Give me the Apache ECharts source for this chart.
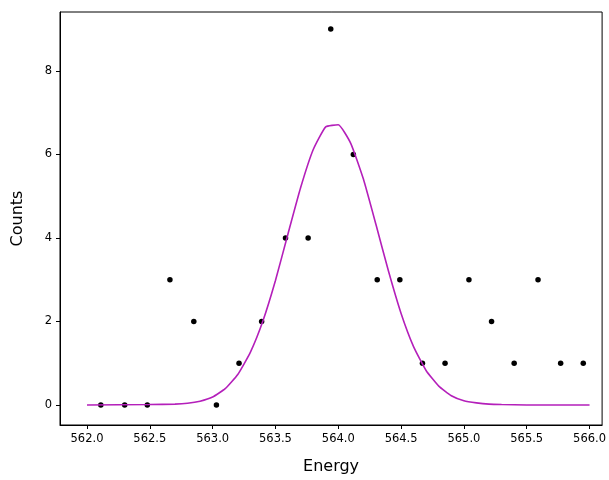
<!DOCTYPE html>
<html><head><meta charset="utf-8">
<script src="https://cdn.jsdelivr.net/npm/echarts@6/dist/echarts.min.js"></script>
<style>html,body{margin:0;padding:0;background:#fff}#c{width:609px;height:480px}</style>
</head><body><div id="c"></div>
<script>
// measured points
var energy = [562.11,562.30,562.48,562.66,562.85,563.03,563.21,563.39,563.58,563.76,563.94,564.12,564.31,564.49,564.67,564.85,565.04,565.22,565.40,565.59,565.77,565.95];
var counts = [0,0,0,3,2,0,1,2,4,4,9,6,3,3,1,1,3,2,1,3,1,1];
// fitted curve
var fitX = [562.0,562.5,562.7,562.8,562.9,563.0,563.1,563.2,563.3,563.4,563.5,563.6,563.7,563.8,563.9,564.0,564.1,564.2,564.3,564.4,564.5,564.6,564.7,564.8,564.9,565.0,565.1,565.2,565.3,565.5,566.0];
var fitY = [0,0.01,0.02,0.04,0.09,0.19,0.39,0.73,1.26,2.01,2.98,4.10,5.20,6.11,6.66,6.71,6.26,5.41,4.32,3.20,2.19,1.39,0.82,0.45,0.22,0.10,0.05,0.02,0.01,0,0];
var xTicks = [562.0,562.5,563.0,563.5,564.0,564.5,565.0,565.5,566.0];
var yTicks = [0,2,4,6,8];

var chart = echarts.init(document.getElementById('c'));
var font = 'DejaVu Sans';
chart.setOption({
  animation: false,
  grid: {left: 60, right: 6, top: 12, bottom: 55, show: true, borderColor: '#000', borderWidth: 1},
  xAxis: {
    type: 'value', min: 561.785, max: 566.1,
    name: 'Energy', nameLocation: 'middle', nameGap: 34,
    nameTextStyle: {fontFamily: font, fontSize: 16, color: '#000'},
    axisLine: {show: true, onZero: false, lineStyle: {color: '#000'}}, splitLine: {show: false},
    axisTick: {show: true, length: 4, inside: false, customValues: xTicks, lineStyle: {color: '#000'}},
    axisLabel: {customValues: xTicks, fontFamily: font, fontSize: 11.5, color: '#000', margin: 8,
      formatter: function (v) { return v.toFixed(1); }}
  },
  yAxis: {
    type: 'value', min: -0.48, max: 9.41,
    name: 'Counts', nameLocation: 'middle', nameGap: 34,
    nameTextStyle: {fontFamily: font, fontSize: 16, color: '#000'},
    axisLine: {show: true, onZero: false, lineStyle: {color: '#000'}}, splitLine: {show: false},
    axisTick: {show: true, length: 4, inside: false, customValues: yTicks, lineStyle: {color: '#000'}},
    axisLabel: {customValues: yTicks, fontFamily: font, fontSize: 11.5, color: '#000', margin: 8}
  },
  series: [
    {type: 'line', data: fitX.map(function (x, i) { return [x, fitY[i]]; }),
      showSymbol: false, smooth: 0.15, lineStyle: {color: '#b41fba', width: 1.6}},
    {type: 'scatter', data: energy.map(function (x, i) { return [x, counts[i]]; }),
      symbolSize: 5.5, itemStyle: {color: '#000', opacity: 1}}
  ]
});
</script></body></html>
